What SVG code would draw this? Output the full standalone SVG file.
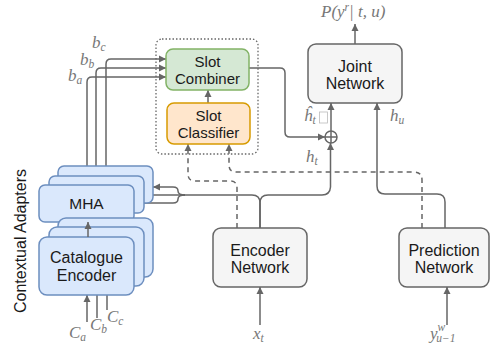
<svg xmlns="http://www.w3.org/2000/svg" width="491" height="349" viewBox="0 0 491 349">
<style>
.ln{fill:none;stroke:#666;stroke-width:1.5}
.da{fill:none;stroke:#666;stroke-width:1.5;stroke-dasharray:5 4}
.ar{marker-end:url(#ah)}
.gray{fill:#f5f5f5;stroke:#666;stroke-width:1.5}
.blue{fill:#dae8fc;stroke:#6c8ebf;stroke-width:1.5}
.t{font-family:"Liberation Sans",Arial,sans-serif;font-size:15.5px;fill:#1a1a1a;text-anchor:middle}
.m{font-family:"Liberation Serif","Times New Roman",serif;font-style:italic;font-size:17px;fill:#777}
.s{font-size:11.5px}
</style>
<defs>
<marker id="ah" markerWidth="8" markerHeight="8" refX="7" refY="4" orient="auto" markerUnits="userSpaceOnUse">
<path d="M0,0.5 L7,4 L0,7.5 Z" fill="#666"/>
</marker>
</defs>

<g id="contextual-adapters-label">
<text class="t" transform="translate(26,241) rotate(-90)" style="font-size:16px">Contextual Adapters</text>
</g>

<g id="slot-group">
<rect x="156" y="39" width="102" height="115" rx="6" fill="none" stroke="#666" stroke-width="1.3" stroke-dasharray="1.5 2"/>
</g>

<g id="connectors">
<path class="ln" d="M107,310 V277"/>
<path class="ln" d="M97,318 V286"/>
<path class="ln" d="M107,218 V203"/>
<path class="ln" d="M97,227 V212"/>
<path class="ln ar" d="M106,166 V64 Q106,59 111,59 H166"/>
<path class="ln ar" d="M96,175 V73 Q96,68 101,68 H166"/>
<path class="ln ar" d="M87,185 V82 Q87,77 92,77 H166"/>
<path class="ln ar" d="M208,103 V90"/>
<path class="ln ar" d="M249,68 H280 Q285,68 285,73 V132 Q285,137 290,137 H325"/>
<path class="ln ar" d="M331,131 V103"/>
<path class="ln ar" d="M355,44 V24"/>
<path class="ln ar" d="M260,228 V203 Q260,195 268,195 H322 Q330,195 330.5,187 V143"/>
<path class="ln" d="M260,228 V203 Q260,195 252,195 H184"/>
<path class="ln ar" d="M185,195 Q178,195 178,191 Q178,187 173,187 H153"/>
<path class="ln ar" d="M185,195 H145"/>
<path class="ln ar" d="M185,195 Q178,195 178,199 Q178,203 173,203 H135"/>
<path class="ln ar" d="M445,228 V202 Q445,194 437,194 H385 Q377,194 377,186 V103"/>
<path class="da ar" d="M237,228 V188 Q237,181 230,181 H195 Q188,181 188,174 V144"/>
<path class="da ar" d="M422,228 V180 Q422,172 414,172 H236 Q229,172 229,165 V144"/>
<path class="ln ar" d="M260,325 V287"/>
<path class="ln ar" d="M447,325 V287"/>
<path class="ln ar" d="M87,322 V295"/>
</g>

<g id="sum">
<circle cx="331" cy="137" r="6" fill="#fff" stroke="#666" stroke-width="1.5"/>
<path class="ln" d="M325,137 H337 M331,131 V143"/>
</g>

<g id="slot-combiner">
<rect x="166" y="49" width="83" height="41" rx="7" fill="#d5e8d4" stroke="#82b366" stroke-width="1.5"/>
<text class="t" x="207.5" y="67" style="font-size:15px">Slot</text>
<text class="t" x="207.5" y="84" style="font-size:15px">Combiner</text>
</g>

<g id="slot-classifier">
<rect x="167" y="103" width="83" height="41" rx="7" fill="#ffe6cc" stroke="#d79b00" stroke-width="1.5"/>
<text class="t" x="208.5" y="121" style="font-size:15px">Slot</text>
<text class="t" x="208.5" y="138" style="font-size:15px">Classifier</text>
</g>

<g id="joint-network">
<rect class="gray" x="308" y="44" width="94" height="59" rx="8"/>
<text class="t" x="355" y="72" style="font-size:16px">Joint</text>
<text class="t" x="355" y="89" style="font-size:16px">Network</text>
</g>

<g id="encoder-network">
<rect class="gray" x="213" y="228" width="94" height="59" rx="8"/>
<text class="t" x="260" y="256" style="font-size:16px">Encoder</text>
<text class="t" x="260" y="273" style="font-size:16px">Network</text>
</g>

<g id="prediction-network">
<rect class="gray" x="399" y="228" width="90" height="59" rx="8"/>
<text class="t" x="444" y="256" style="font-size:16px">Prediction</text>
<text class="t" x="444" y="273" style="font-size:16px">Network</text>
</g>

<g id="mha">
<rect class="blue" x="58" y="166" width="95" height="37" rx="6"/>
<rect class="blue" x="49" y="176" width="95" height="37" rx="6"/>
<rect class="blue" x="39" y="185" width="95" height="37" rx="6"/>
<text class="t" x="86.5" y="209" style="font-size:15.5px">MHA</text>
</g>

<g id="catalogue-encoder">
<rect class="blue" x="58" y="218" width="95" height="59" rx="8"/>
<rect class="blue" x="49" y="227" width="95" height="59" rx="8"/>
<rect class="blue" x="39" y="237" width="95" height="58" rx="8"/>
<text class="t" x="86.5" y="263" style="font-size:16px">Catalogue</text>
<text class="t" x="86.5" y="281" style="font-size:16px">Encoder</text>
</g>

<g id="front-arrow">
<path class="ln ar" d="M88,237 V222"/>
</g>

<g id="labels">
<text class="m" x="321" y="17">P(y<tspan class="s" dy="-6">r</tspan><tspan dy="6">| t, u)</tspan></text>
<text class="m" x="92" y="48">b<tspan class="s" dy="3">c</tspan></text>
<text class="m" x="80" y="65">b<tspan class="s" dy="3">b</tspan></text>
<text class="m" x="68" y="81">b<tspan class="s" dy="3">a</tspan></text>
<text class="m" x="304" y="121">ĥ<tspan class="s" dy="3">t</tspan></text>
<rect x="319.5" y="112" width="8" height="11" fill="#fff" stroke="#bbb" stroke-width="0.8"/>
<text class="m" x="390" y="121">h<tspan class="s" dy="3">u</tspan></text>
<text class="m" x="306" y="162">h<tspan class="s" dy="3">t</tspan></text>
<text class="m" x="253" y="339">x<tspan class="s" dy="3">t</tspan></text>
<text class="m" x="430" y="339">y<tspan class="s" dy="-8">w</tspan><tspan class="s" dx="-9" dy="11">u−1</tspan></text>
<text class="m" x="69" y="338">C<tspan class="s" dy="3">a</tspan></text>
<text class="m" x="90" y="330">C<tspan class="s" dy="3">b</tspan></text>
<text class="m" x="107" y="322">C<tspan class="s" dy="3">c</tspan></text>
</g>
</svg>
